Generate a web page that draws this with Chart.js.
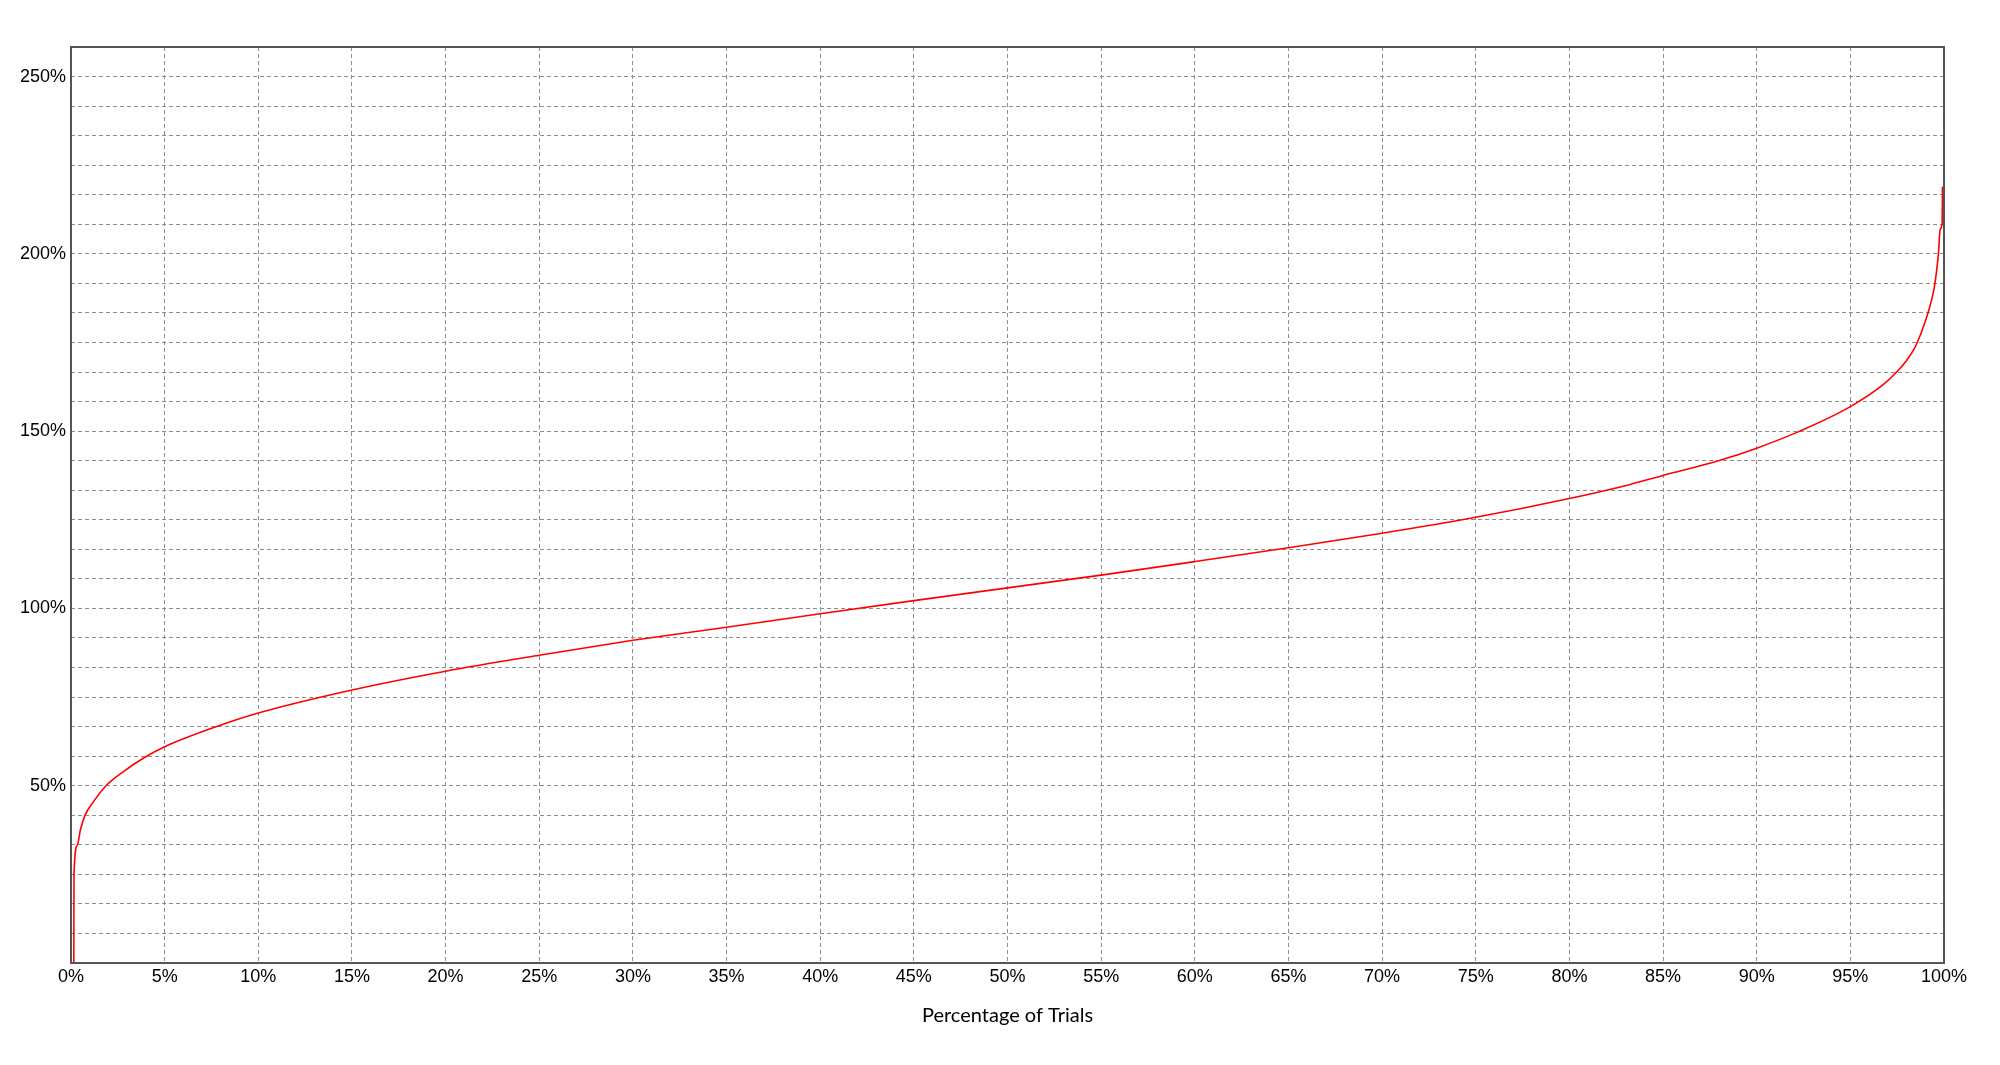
<!DOCTYPE html>
<html>
<head>
<meta charset="utf-8">
<title>Percentage of Trials</title>
<script src="https://cdn.jsdelivr.net/npm/chart.js@4.4.0/dist/chart.umd.min.js"></script>
<style>
  body { margin: 0; background: #fff; }
  #wrap { width: 2000px; height: 1065px; position: relative; }
</style>
</head>
<body>
<div id="wrap"><canvas id="trialsChart"></canvas></div>
<script>
// sorted outcomes: x = share of trials, y = result (both in %)
const trialPct = [
  0.15, 0.16, 0.34, 0.5, 0.75, 1.2, 1.87, 2.8, 3.9, 5, 7.78,
  10, 15, 20, 25, 30, 35, 40, 45, 50, 55, 60, 65, 70, 75, 80,
  83.2, 85, 88, 90, 92.3, 95, 96.8, 97.5, 98.0, 98.45, 98.7, 99.0, 99.2,
  99.45, 99.6, 99.7, 99.8, 99.9, 99.92
];
const resultPct = [
  0, 25, 33.3, 37.5, 41.7, 45.5, 50, 54.0, 57.9, 61, 66.7,
  70.5, 77, 82.3, 86.8, 91, 94.7, 98.5, 102.2, 105.8, 109.4, 113.2, 117.1, 121.2, 125.7, 131,
  134.9, 137.5, 141.7, 145.2, 150, 156.9, 163.3, 166.8, 169.9, 173.6, 176.6, 181, 184.3,
  189.6, 195, 200, 207, 208.5, 219
];

const xTickStep = 5;
const yLabels = [50, 100, 150, 200, 250];
const yGridStep = 50 / 6;
const yGridCount = 31;

const yGrid = [];
for (let i = 0; i <= yGridCount; i++) yGrid.push(i * yGridStep);

const points = trialPct.map((x, i) => ({ x: x, y: resultPct[i] }));

const framePlugin = {
  id: 'frame',
  afterDraw(chart) {
    const { ctx, chartArea: a } = chart;
    ctx.save();
    ctx.strokeStyle = '#555555';
    ctx.lineWidth = 2;
    ctx.strokeRect(a.left, a.top, a.right - a.left, a.bottom - a.top);
    ctx.restore();
  }
};

const tickFont = { family: '"Liberation Sans", Arial, sans-serif', size: 18 };
const gridColor = '#8c8c8c';

new Chart(document.getElementById('trialsChart'), {
  type: 'line',
  data: {
    datasets: [{
      data: points,
      borderColor: '#ff0000',
      borderWidth: 1.6,
      pointRadius: 0,
      fill: false,
      cubicInterpolationMode: 'monotone'
    }]
  },
  options: {
    responsive: true,
    maintainAspectRatio: false,
    animation: false,
    layout: { padding: { top: 47, right: 56, bottom: 0, left: 0 } },
    plugins: {
      legend: { display: false },
      tooltip: { enabled: false }
    },
    scales: {
      x: {
        type: 'linear',
        min: 0,
        max: 100,
        afterFit: s => { s.height = 102; },
        ticks: {
          stepSize: xTickStep,
          autoSkip: false,
          maxRotation: 0,
          padding: 3,
          color: '#000',
          font: tickFont,
          callback: v => v + '%'
        },
        grid: { color: gridColor, lineWidth: 1, drawTicks: false },
        border: { display: false, dash: [4, 3] },
        title: {
          display: true,
          text: 'Percentage of Trials',
          color: '#000',
          font: { family: 'Lato, "Open Sans", sans-serif', size: 20 },
          padding: { top: 0, bottom: 37 }
        }
      },
      y: {
        min: 0,
        max: yGrid[yGrid.length - 1],
        afterFit: s => { s.width = 71; },
        afterBuildTicks: s => { s.ticks = yGrid.map(v => ({ value: v })); },
        ticks: {
          padding: 5,
          color: '#000',
          font: tickFont,
          callback: v => {
            const lab = yLabels.find(l => Math.abs(l - v) < 1e-6);
            return lab !== undefined ? lab + '%' : '';
          }
        },
        grid: { color: gridColor, lineWidth: 1, drawTicks: false },
        border: { display: false, dash: [4, 3] }
      }
    }
  },
  plugins: [framePlugin]
});
</script>
</body>
</html>
